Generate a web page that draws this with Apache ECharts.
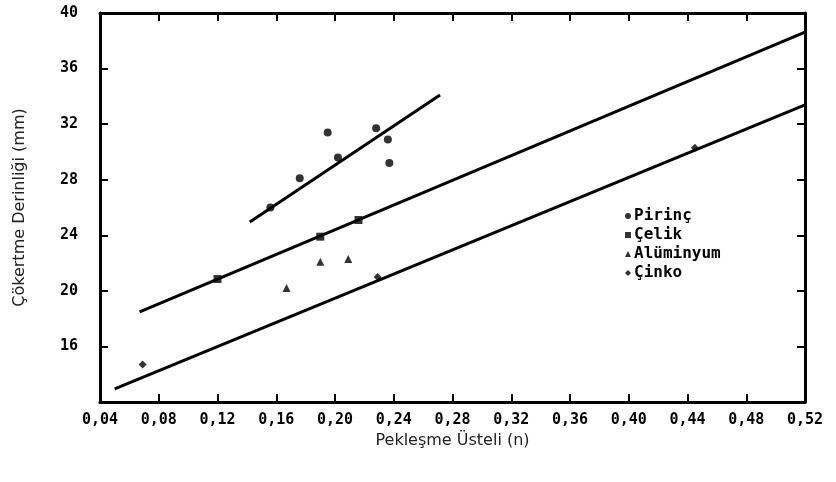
<!DOCTYPE html>
<html>
<head>
<meta charset="utf-8">
<script src="https://cdn.jsdelivr.net/npm/echarts@6/dist/echarts.min.js"></script>
<style>html,body{margin:0;padding:0;background:#fff}#c{width:836px;height:482px}</style>
</head>
<body>
<div id="c"></div>
<script>
// Axis
var xTitle = "Pekleşme Üsteli (n)";
var yTitle = "Çökertme Derinliği (mm)";
var xMin = 0.04, xMax = 0.52, xStep = 0.04;
var yMin = 12, yMax = 40, yStep = 4;

// Series (n, depth mm)
var seriesNames = ["Pirinç", "Çelik", "Alüminyum", "Çinko"];
var pirinc = [[0.156, 26.0], [0.176, 28.1], [0.202, 29.6], [0.228, 31.7], [0.236, 30.9], [0.195, 31.4], [0.237, 29.2]];
var celik = [[0.120, 20.85], [0.190, 23.9], [0.216, 25.1]];
var aluminyum = [[0.167, 20.2], [0.190, 22.1], [0.209, 22.3]];
var cinko = [[0.069, 14.7], [0.229, 21.0], [0.445, 30.3]];

// Fit lines
var lineUpper = [[0.142, 24.96], [0.2715, 34.1]];
var lineMiddle = [[0.067, 18.48], [0.52, 38.63]];
var lineLower = [[0.050, 12.94], [0.52, 33.38]];

var symbols = ["circle", "rect", "triangle", "diamond"];
var pts = [pirinc, celik, aluminyum, cinko];

var chart = echarts.init(document.getElementById('c'));
var axisLine = {show: true, lineStyle: {color: '#000', width: 3}};
var tick = {show: true, inside: true, length: 8, lineStyle: {color: '#000', width: 2}};
var labelFont = {fontFamily: 'DejaVu Sans Mono', fontWeight: 'bold', fontSize: 15, color: '#000'};

var series = [];
seriesNames.forEach(function (n, i) {
  series.push({
    name: n, type: 'scatter', data: pts[i], symbol: symbols[i], symbolSize: 8,
    itemStyle: {color: '#000'}, z: 5
  });
});
[lineUpper, lineMiddle, lineLower].forEach(function (d) {
  series.push({
    type: 'line', data: d, symbol: 'none', silent: true,
    lineStyle: {color: '#000', width: 3}
  });
});

chart.setOption({
  animation: false,
  backgroundColor: '#fff',
  grid: {left: 100, right: 31, top: 13, bottom: 80},
  legend: {
    data: seriesNames, orient: 'vertical', left: 620, top: 203, itemGap: 3,
    itemWidth: 6, itemHeight: 6,
    textStyle: {fontFamily: 'DejaVu Sans Mono', fontWeight: 'bold', fontSize: 16, color: '#000', padding: [0, 0, 0, -2]}
  },
  xAxis: [{
    type: 'value', min: xMin, max: xMax, interval: xStep, position: 'bottom',
    name: xTitle, nameLocation: 'middle', nameGap: 30,
    nameTextStyle: {fontFamily: 'DejaVu Sans', fontSize: 16, color: '#222'},
    axisLine: axisLine, axisTick: tick, splitLine: {show: false},
    axisLabel: Object.assign({margin: 11, formatter: function (v) { return v.toFixed(2).replace('.', ','); }}, labelFont)
  }, {
    type: 'value', min: xMin, max: xMax, interval: xStep, position: 'top',
    axisLine: axisLine, axisTick: tick, splitLine: {show: false}, axisLabel: {show: false}
  }],
  yAxis: [{
    type: 'value', min: yMin, max: yMax, interval: yStep, position: 'left',
    name: yTitle, nameLocation: 'middle', nameGap: 72,
    nameTextStyle: {fontFamily: 'DejaVu Sans', fontSize: 16, color: '#222'},
    axisLine: axisLine, axisTick: tick, splitLine: {show: false},
    axisLabel: Object.assign({margin: 22, formatter: function (v) { return v === yMin ? '' : String(v); }}, labelFont)
  }, {
    type: 'value', min: yMin, max: yMax, interval: yStep, position: 'right',
    axisLine: axisLine, axisTick: tick, splitLine: {show: false}, axisLabel: {show: false}
  }],
  series: series
});
</script>
</body>
</html>
